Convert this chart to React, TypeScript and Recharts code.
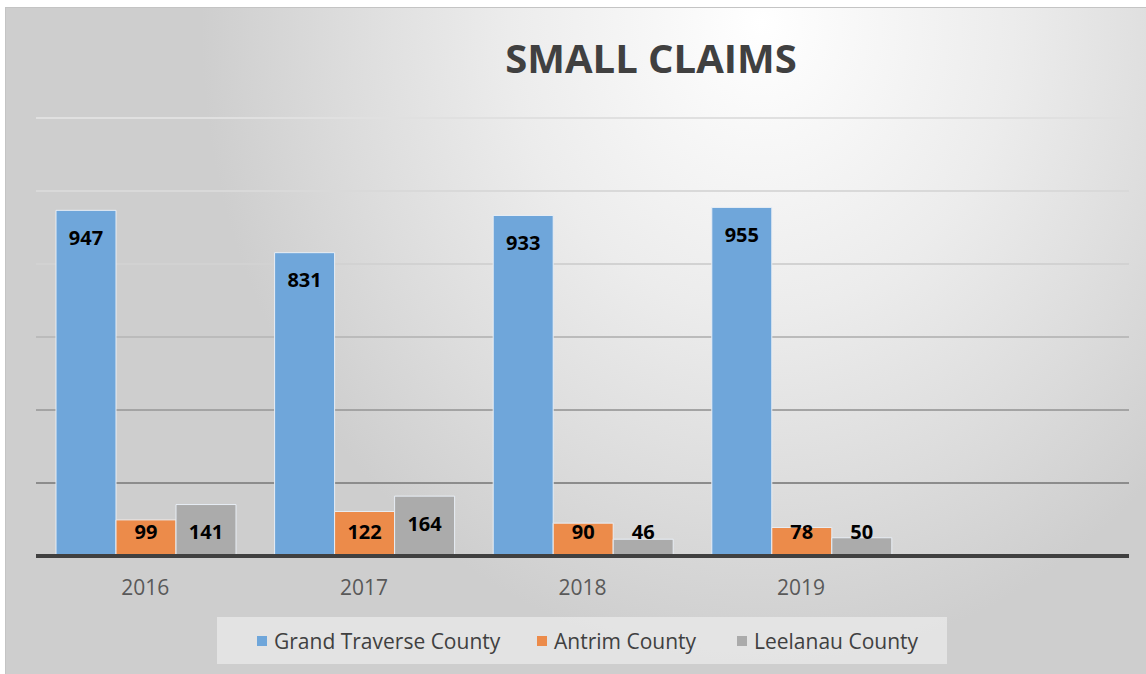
import React from "react";
import { BarChart, Bar, XAxis, YAxis, CartesianGrid, LabelList, Legend } from "recharts";

const categories = ["2016", "2017", "2018", "2019", ""];
const grandTraverse = [947, 831, 933, 955, null];
const antrim = [99, 122, 90, 78, null];
const leelanau = [141, 164, 46, 50, null];
const yTicks = [0, 200, 400, 600, 800, 1000, 1200];

const seriesInfo = [
  { key: "gt", name: "Grand Traverse County", color: "#6FA6DA" },
  { key: "an", name: "Antrim County", color: "#EC8B4A" },
  { key: "le", name: "Leelanau County", color: "#ABABAB" },
];

const data = categories.map((c, i) => ({
  year: c,
  gt: grandTraverse[i],
  an: antrim[i],
  le: leelanau[i],
}));

const FONT = "'Open Sans', 'DejaVu Sans', sans-serif";

const renderLabel = (props: any) => {
  const vb = props.viewBox || {};
  const x = props.x ?? vb.x;
  const y = props.y ?? vb.y;
  const width = props.width ?? vb.width;
  const height = props.height ?? vb.height;
  const value = props.value;
  if (value == null || x == null) return null;
  const bottom = y + height;
  const cy = Math.min(y + 27, bottom - 25);
  return (
    <text
      x={x + width / 2}
      y={cy}
      textAnchor="middle"
      dominantBaseline="central"
      fontFamily={FONT}
      fontWeight={700}
      fontSize={20}
      fill="#000000"
    >
      {value}
    </text>
  );
};

const legendOffsets = [40, 320, 520];

const renderLegend = () => (
  <div
    style={{
      position: "relative",
      width: 730,
      height: 47,
      background: "rgba(232,232,232,0.8)",
      fontFamily: FONT,
    }}
  >
    {seriesInfo.map((s, i) => (
      <div
        key={s.key}
        style={{
          position: "absolute",
          left: legendOffsets[i],
          top: 0,
          height: 47,
          display: "flex",
          alignItems: "center",
          whiteSpace: "nowrap",
        }}
      >
        <span
          style={{
            display: "inline-block",
            width: 10,
            height: 10,
            background: s.color,
            marginRight: 7,
          }}
        />
        <span style={{ fontSize: 21, color: "#404040" }}>{s.name}</span>
      </div>
    ))}
  </div>
);

export default function App() {
  return (
    <div style={{ position: "absolute", left: 0, top: 0, width: 1146, height: 674, background: "#ffffff" }}>
      <div
        style={{
          position: "absolute",
          left: 5,
          top: 7,
          width: 1141,
          height: 667,
          borderTop: "1px solid #c4c4c4",
          borderLeft: "1px solid #c4c4c4",
          boxSizing: "border-box",
          background:
            "radial-gradient(ellipse 560px 640px at 755px 15px, #ffffff 0%, #ececec 45%, #dcdcdc 75%, #cecece 100%)",
        }}
      />
      <div style={{ position: "absolute", left: 0, top: 0 }}>
        <BarChart
          width={1146}
          height={674}
          data={data}
          margin={{ top: 118, right: 17, bottom: 88, left: 36 }}
          barCategoryGap={20}
          barGap={0}
        >
          <defs>
            <linearGradient id="gridGrad" gradientUnits="userSpaceOnUse" x1="0" y1="118" x2="0" y2="484">
              <stop offset="0%" stopColor="#e0e0e0" />
              <stop offset="40%" stopColor="#d2d2d2" />
              <stop offset="100%" stopColor="#8c8c8c" />
            </linearGradient>
          </defs>
          <CartesianGrid vertical={false} stroke="url(#gridGrad)" strokeWidth={2} />
          <YAxis hide domain={[0, 1200]} ticks={yTicks} />
          <XAxis
            dataKey="year"
            axisLine={{ stroke: "#404040", strokeWidth: 4 }}
            tickLine={false}
            tickSize={0}
            tickMargin={24}
            tick={{ fontSize: 21, fill: "#595959", fontFamily: FONT }}
            interval={0}
          />
          {seriesInfo.map((s) => (
            <Bar
              key={s.key}
              dataKey={s.key}
              name={s.name}
              fill={s.color}
              stroke="#e8eef5"
              strokeWidth={1}
              isAnimationActive={false}
            >
              <LabelList dataKey={s.key} content={renderLabel} />
            </Bar>
          ))}
          <Legend
            layout="horizontal"
            verticalAlign="middle"
            align="center"
            content={renderLegend}
            wrapperStyle={{ left: 217, top: 617, width: 730, height: 47 }}
          />
        </BarChart>
      </div>
      <svg
        width={1146}
        height={120}
        style={{ position: "absolute", left: 0, top: 0, pointerEvents: "none" }}
      >
        <text
          x={651}
          y={73}
          textAnchor="middle"
          fontFamily={FONT}
          fontWeight={700}
          fontSize={40}
          fill="#404040"
        >
          SMALL CLAIMS
        </text>
      </svg>
    </div>
  );
}
